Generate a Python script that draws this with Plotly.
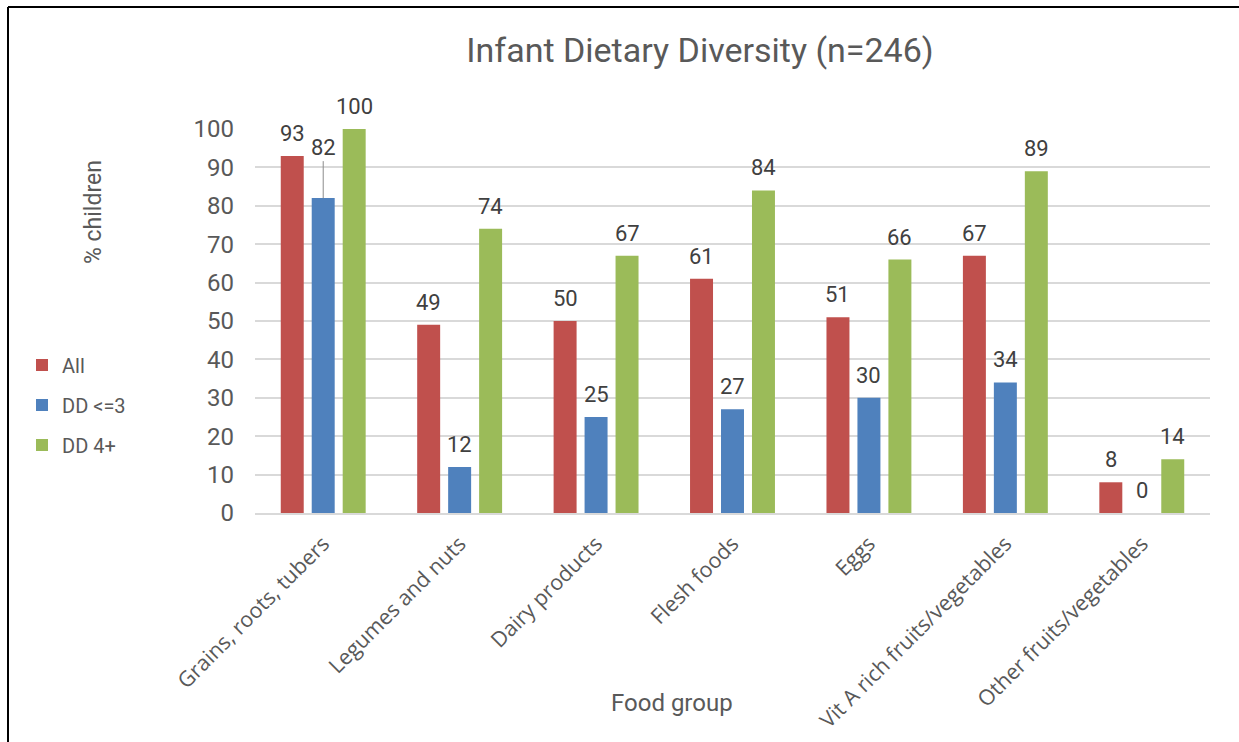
import plotly.graph_objects as go

categories = ["Grains, roots, tubers", "Legumes and nuts", "Dairy products", "Flesh foods",
              "Eggs", "Vit A rich fruits/vegetables", "Other fruits/vegetables"]
all_vals = [93, 49, 50, 61, 51, 67, 8]
dd_low = [82, 12, 25, 27, 30, 34, 0]
dd_high = [100, 74, 67, 84, 66, 89, 14]
y_ticks = [0, 10, 20, 30, 40, 50, 60, 70, 80, 90, 100]

series = [("All", all_vals, "#C0504D"), ("DD <=3", dd_low, "#4F81BD"), ("DD 4+", dd_high, "#9BBB59")]

W, H = 1239, 742
L, R, T, B = 255, 29, 129, 229
GRAY = "#595959"
SANS = "Roboto"

fig = go.Figure()
for i, (name, vals, color) in enumerate(series):
    fig.add_trace(go.Bar(x=categories, y=vals, name=name, marker_color=color,
                         marker_line_width=0, legendgroup=name))

# value labels above bars
plot_w = W - L - R
slot = plot_w / len(categories) * (1 - 0.319) / 3
offsets = [-slot, 0, slot]
for (name, vals, color), off in zip(series, offsets):
    for cat, v in zip(categories, vals):
        if name == "DD <=3" and cat == "Grains, roots, tubers":
            fig.add_annotation(x=cat, y=v, xref="x", yref="y", text=str(v), showarrow=True,
                               arrowhead=0, arrowwidth=1, arrowcolor="#8c8c8c",
                               ax=0, ay=-51, xshift=off, standoff=0,
                               font=dict(family="Roboto", size=22, color="#404040"))
        else:
            fig.add_annotation(x=cat, y=v, xref="x", yref="y", text=str(v), showarrow=False,
                               xshift=off, yanchor="bottom", yshift=8,
                               font=dict(family="Roboto", size=22, color="#404040"))

# axis titles
fig.add_annotation(text="% children", xref="paper", yref="paper",
                   x=(93 - L) / plot_w, y=(H - B - 212) / (H - T - B), textangle=-90,
                   xanchor="center", yanchor="middle",
                   showarrow=False, font=dict(family=SANS, size=23, color=GRAY))
fig.add_annotation(text="Food group", xref="paper", yref="paper",
                   x=(672 - L) / plot_w, y=(H - B - 703) / (H - T - B),
                   xanchor="center", yanchor="middle",
                   showarrow=False, font=dict(family=SANS, size=24, color=GRAY))

# outer frame
ph = H - T - B
fig.add_shape(type="line", xref="paper", yref="paper",
              x0=(8 - L) / plot_w, x1=(8 - L) / plot_w, y0=(H - B - 7) / ph, y1=(H - B - 760) / ph,
              line=dict(color="black", width=2))
fig.add_shape(type="line", xref="paper", yref="paper",
              x0=(8 - L) / plot_w, x1=(1260 - L) / plot_w, y0=(H - B - 7) / ph, y1=(H - B - 7) / ph,
              line=dict(color="black", width=2))

fig.update_layout(
    width=W, height=H,
    margin=dict(l=L, r=R, t=T, b=B, autoexpand=False),
    paper_bgcolor="white", plot_bgcolor="white",
    barmode="group", bargap=0.319, bargroupgap=0.258,
    title=dict(text="Infant Dietary Diversity (n=246)", x=700 / W, xanchor="center",
               xref="container", y=1 - 50 / H, yanchor="middle", yref="container",
               font=dict(family=SANS, size=34, color=GRAY)),
    legend=dict(xref="container", yref="container", x=22 / W, xanchor="left",
                y=1 - 405 / H, yanchor="middle", font=dict(family=SANS, size=20, color=GRAY),
                tracegroupgap=11, bgcolor="rgba(0,0,0,0)"),
    showlegend=True,
    xaxis=dict(tickangle=-45, tickfont=dict(family="Open Sans", size=21.4, color=GRAY),
               showline=True, linecolor="#D9D9D9", linewidth=1.5, ticks="",
               ticklabelstandoff=8, automargin=False),
    yaxis=dict(range=[0, 100], tickvals=y_ticks, showgrid=True, gridcolor="#D9D9D9",
               gridwidth=1.5, zeroline=False, tickfont=dict(family="Roboto", size=24, color=GRAY),
               ticks="", ticklabelstandoff=20, automargin=False),
)

fig.write_html("out.html")
